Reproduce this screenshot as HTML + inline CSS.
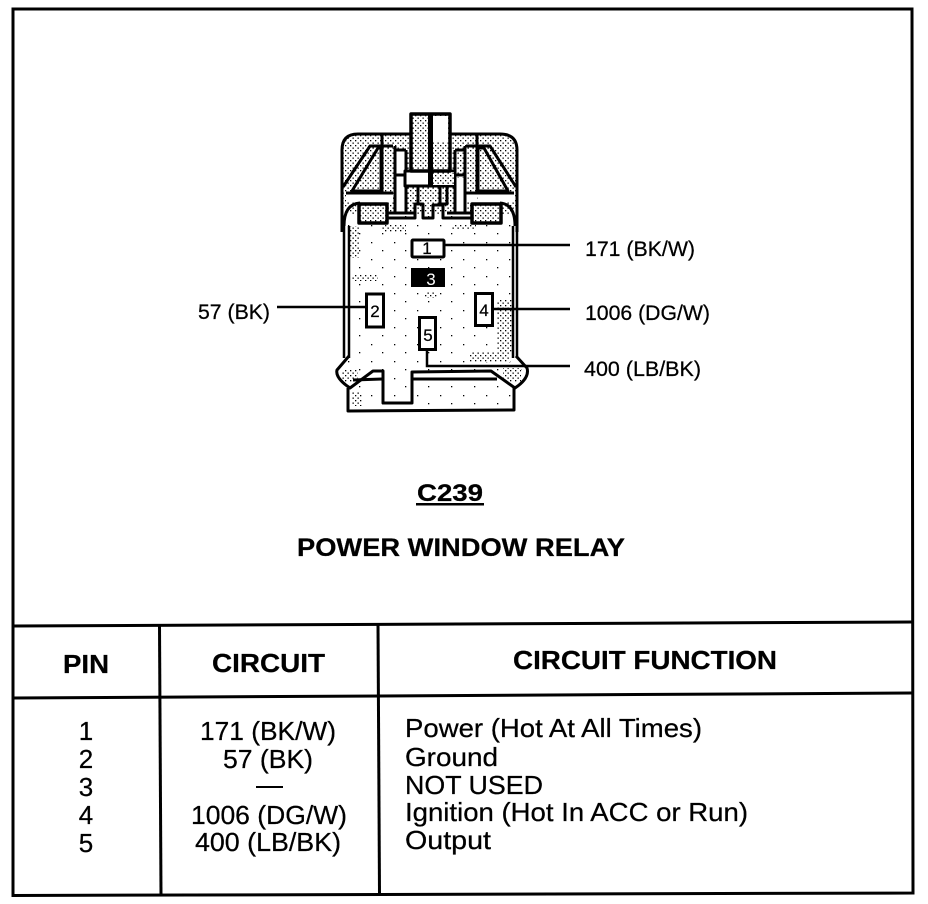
<!DOCTYPE html>
<html><head><meta charset="utf-8"><style>html,body{margin:0;padding:0;background:#fff;width:928px;height:904px;overflow:hidden}svg{display:block}text{font-family:"Liberation Sans",sans-serif;fill:#000;stroke:#000;stroke-width:.25}</style></head><body>
<svg width="928" height="904" viewBox="0 0 928 904" xmlns="http://www.w3.org/2000/svg">
<defs>
<pattern id="d" width="5" height="5" patternUnits="userSpaceOnUse"><rect width="5" height="5" fill="#fff"/><rect x="0" y="0" width="1.3" height="1.3" fill="#000"/><rect x="2.500" y="2.500" width="1.3" height="1.3" fill="#000"/></pattern>
<pattern id="s" width="23" height="17" patternUnits="userSpaceOnUse"><rect width="23" height="17" fill="#fff"/><rect x="3" y="4" width="1.3" height="1.3" fill="#000"/><rect x="14" y="12" width="1.3" height="1.3" fill="#000"/></pattern>
</defs>
<rect width="928" height="904" fill="#fff"/>
<!-- frame -->
<g fill="none" stroke="#000" stroke-width="3">
<path d="M13 9 L912 9 L913 893 L13 895.5 Z"/>
<path d="M13 626 L912 622"/><path d="M13 698 L912 693"/>
<path d="M159.5 626 L161 895"/><path d="M378 624 L379.5 894"/>
</g>
<!-- body fills -->
<path d="M341 205 L341 150 Q341 133 358 133 L500 133 Q518 133 518 150 L518 205 L500 222 L358 222 Z" fill="url(#d)"/>
<path d="M345 215 L515 215 L516 358 L527 372 L515 388 L514 411 L348 411 L348 388 L337 372 L347 358 Z" fill="url(#s)"/>
<g fill="url(#d)" stroke="none">
<rect x="350" y="226" width="9" height="32"/><rect x="352" y="274" width="26" height="7"/><rect x="497" y="300" width="15" height="52"/><rect x="470" y="352" width="40" height="10"/><rect x="342" y="370" width="16" height="12"/><rect x="503" y="368" width="18" height="14"/><rect x="352" y="392" width="10" height="14"/><rect x="382" y="224" width="24" height="8"/><rect x="452" y="224" width="24" height="6"/><rect x="425" y="292" width="12" height="6"/>
</g>
<!-- white columns -->
<g fill="#fff" stroke="none">
<rect x="397" y="150" width="8" height="62"/><rect x="456" y="178" width="8" height="34"/>
<rect x="382" y="193" width="11" height="9"/><rect x="346" y="193" width="36" height="9"/><rect x="478" y="193" width="36" height="9"/><rect x="465" y="193" width="12" height="9"/>
</g>
<g fill="none" stroke="#000" stroke-width="3" stroke-linejoin="round">
<!-- outer shell -->
<path d="M342 232 L342 150 Q342 134 358 134 L410 134 M450 134 L500 134 Q517 134 517 150 L517 232"/>
<path d="M344 226 Q344 204 360 203 M500 203 Q515 204 515 226"/>
<path d="M344 222 L344 358 M349 226 L349 358 M517 222 L517 358 M513 226 L513 358" stroke-width="2.500"/>
<path d="M349 356 L337 370 Q335 378 350 388 L373 371 L383 371 L383 403 L412 403 L412 372 L491 371 L515 388 Q530 378 527 368 L516 356"/>
<path d="M353 380 L383 379 M412 379 L497 379"/>
<path d="M348 388 L348 411 L514 410 L514 388"/>
<!-- left triangle -->
<path d="M343 187 L370 146 L393 146"/>
<path d="M352 191 L378 148 L381 148 L381 191 Z" stroke-width="3"/>
<path d="M346 193 L393 193"/>
<path d="M382 134 L382 193"/>
<!-- right triangle -->
<path d="M516 187 L490 146 L466 146"/>
<path d="M508 191 L484 148 L478 148 L478 191 Z" stroke-width="3"/>
<path d="M466 193 L514 193"/>
<path d="M477 134 L477 193"/>
<!-- columns -->
<path d="M395 146 L395 213 M406 150 L406 213 M395 150 L406 150 M395 175 L406 175"/>
<path d="M455 150 L455 213 M465 146 L465 213 M455 150 L465 150 M455 175 L465 175"/>
<!-- pads -->
<rect x="359" y="204" width="28" height="19" fill="url(#d)" stroke-width="3.500"/>
<rect x="472" y="204" width="29" height="19" fill="url(#d)" stroke-width="3.500"/>
<!-- base channel -->
<path d="M387 213 L415 213 M387 218 L415 218 L415 204 L423 204 L423 218 L433 218 L433 205 L443 205 L443 218 L472 218 M447 213 L472 213"/>
<!-- block legs -->
<path d="M418 186 L418 204 M440 186 L440 205 M447 186 L447 204 L441 204"/>
<!-- block -->
<rect x="405" y="171" width="50" height="15" fill="#fff" stroke-width="3"/>
<rect x="433" y="172" width="21" height="13" fill="url(#d)" stroke="none"/>
<!-- tab -->
<rect x="411" y="114" width="39" height="57" fill="url(#d)" stroke-width="3.500"/>
<rect x="433" y="116" width="15" height="26" fill="#fff" stroke="none"/>
</g>
<rect x="428" y="114" width="5" height="72" fill="#000"/>
<!-- leaders -->
<g stroke="#000" stroke-width="2.500" fill="none">
<path d="M444 245 L570 245"/><path d="M277 307 L366 307"/><path d="M493 309 L570 309"/><path d="M427 350 L427 366 L570 366"/>
</g>
<!-- pin boxes -->
<g fill="#fff" stroke="#000" stroke-width="3">
<rect x="412" y="240" width="32" height="17" rx="1"/>
<rect x="366.500" y="294" width="17" height="33"/>
<rect x="475.500" y="293.500" width="17" height="32"/>
<rect x="419.500" y="317.500" width="16" height="32"/>
</g>
<rect x="411" y="268" width="34" height="19" fill="#000"/>
<g font-size="17" text-anchor="middle">
<text x="427" y="254">1</text>
<text x="431" y="285" style="fill:#fff;stroke:none">3</text>
<text x="375" y="317">2</text>
<text x="484" y="316">4</text>
<text x="428" y="341">5</text>
</g>
<!-- labels -->
<g font-size="21">
<text x="585" y="256" textLength="110" lengthAdjust="spacingAndGlyphs">171 (BK/W)</text>
<text x="198" y="319" textLength="72" lengthAdjust="spacingAndGlyphs">57 (BK)</text>
<text x="585" y="320" textLength="125" lengthAdjust="spacingAndGlyphs">1006 (DG/W)</text>
<text x="584" y="376" textLength="117" lengthAdjust="spacingAndGlyphs">400 (LB/BK)</text>
</g>
<text x="417" y="501" font-size="24" font-weight="bold" textLength="66" lengthAdjust="spacingAndGlyphs">C239</text>
<rect x="416" y="503" width="68" height="2.500" fill="#000"/>
<text x="297" y="556" font-size="25" font-weight="bold" textLength="328" lengthAdjust="spacingAndGlyphs">POWER WINDOW RELAY</text>
<!-- table head -->
<g font-size="26" font-weight="bold">
<text x="63" y="673" textLength="46" lengthAdjust="spacingAndGlyphs">PIN</text>
<text x="212" y="672" textLength="113" lengthAdjust="spacingAndGlyphs">CIRCUIT</text>
<text x="513" y="669" textLength="264" lengthAdjust="spacingAndGlyphs">CIRCUIT FUNCTION</text>
</g>
<!-- rows -->
<g font-size="26" text-anchor="middle">
<text x="86" y="740">1</text><text x="86" y="768">2</text><text x="86" y="796">3</text><text x="86" y="824">4</text><text x="86" y="852">5</text>
</g>
<g font-size="26">
<text x="200" y="740" textLength="136" lengthAdjust="spacingAndGlyphs">171 (BK/W)</text>
<text x="223" y="768" textLength="90" lengthAdjust="spacingAndGlyphs">57 (BK)</text>
<rect x="256" y="786" width="27" height="2" fill="#000" style="stroke:none"/>
<text x="191" y="824" textLength="156" lengthAdjust="spacingAndGlyphs">1006 (DG/W)</text>
<text x="195" y="851" textLength="146" lengthAdjust="spacingAndGlyphs">400 (LB/BK)</text>
<text x="405" y="737" textLength="297" lengthAdjust="spacingAndGlyphs">Power (Hot At All Times)</text>
<text x="405" y="766" textLength="93" lengthAdjust="spacingAndGlyphs">Ground</text>
<text x="405" y="794" textLength="138" lengthAdjust="spacingAndGlyphs">NOT USED</text>
<text x="405" y="821" textLength="343" lengthAdjust="spacingAndGlyphs">Ignition (Hot In ACC or Run)</text>
<text x="405" y="849" textLength="86" lengthAdjust="spacingAndGlyphs">Output</text>
</g>
</svg>
</body></html>
